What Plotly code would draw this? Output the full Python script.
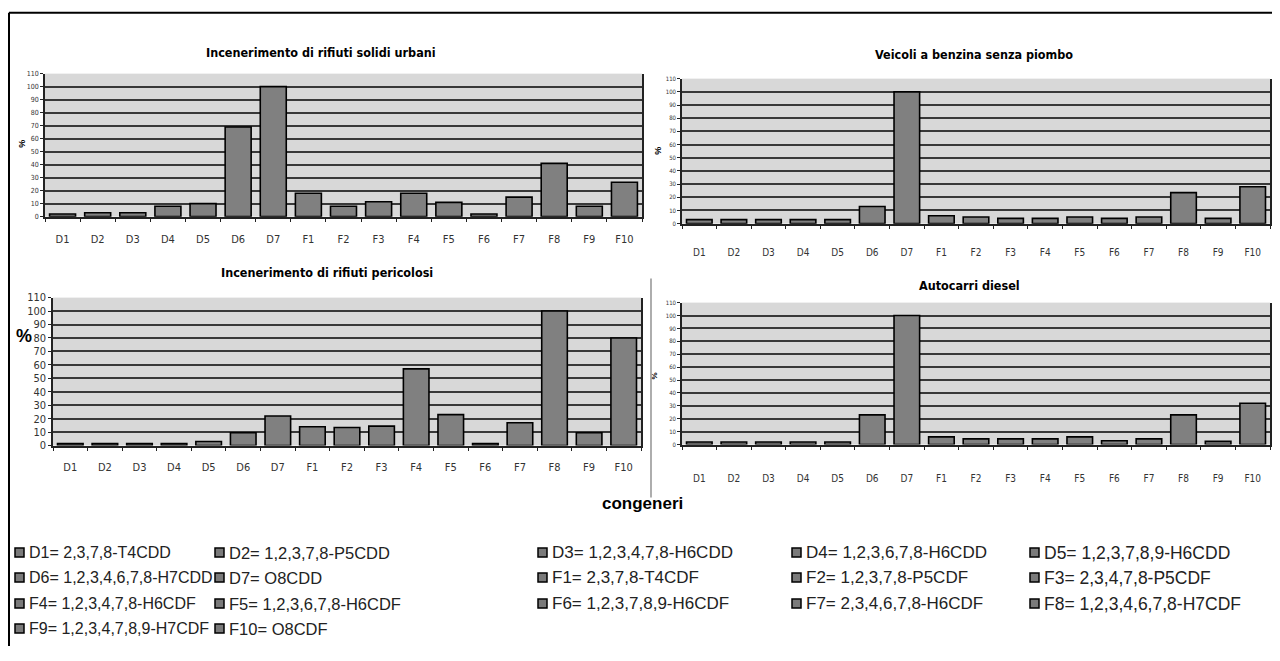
import plotly.graph_objects as go

# page body has an 8px margin, so the figure is sized to fit inside the window
OFF = 8
FW, FH = 1264, 645
# small empirical vertical calibration of the photographed page
Y_A, Y_B = 5.5, 0.98

categories = ["D1", "D2", "D3", "D4", "D5", "D6", "D7", "F1", "F2", "F3",
              "F4", "F5", "F6", "F7", "F8", "F9", "F10"]

rsu_values = [2, 3, 3, 8, 10, 69, 100, 18, 8, 11.5, 18, 11, 2, 15, 41, 8, 26.5]
benzina_values = [3, 3, 3, 3, 3, 13, 100, 6, 5, 4, 4, 5, 4, 5, 23.5, 4, 28]
pericolosi_values = [1.5, 1.5, 1.5, 1.5, 3, 9.5, 22, 14, 13.5, 14.5, 57, 23, 1.5, 17, 100, 9.5, 80]
diesel_values = [2, 2, 2, 2, 2, 23, 100, 6, 4.4, 4.4, 4.4, 6, 3, 4.4, 23, 2.5, 32]

panel_titles = ["Incenerimento di rifiuti solidi urbani",
                "Veicoli a benzina senza piombo",
                "Incenerimento di rifiuti pericolosi",
                "Autocarri diesel"]

y_ticks = [0, 10, 20, 30, 40, 50, 60, 70, 80, 90, 100, 110]

legend_labels = ["D1= 2,3,7,8-T4CDD", "D2= 1,2,3,7,8-P5CDD", "D3= 1,2,3,4,7,8-H6CDD",
                 "D4= 1,2,3,6,7,8-H6CDD", "D5= 1,2,3,7,8,9-H6CDD",
                 "D6= 1,2,3,4,6,7,8-H7CDD", "D7= O8CDD", "F1= 2,3,7,8-T4CDF",
                 "F2= 1,2,3,7,8-P5CDF", "F3= 2,3,4,7,8-P5CDF",
                 "F4= 1,2,3,4,7,8-H6CDF", "F5= 1,2,3,6,7,8-H6CDF", "F6= 1,2,3,7,8,9-H6CDF",
                 "F7= 2,3,4,6,7,8-H6CDF", "F8= 1,2,3,4,6,7,8-H7CDF",
                 "F9= 1,2,3,4,7,8,9-H7CDF", "F10= O8CDF"]

x_axis_title = "congeneri"


def px_x(x):
    return (x - OFF) / FW


def px_y(y):
    yy = (y - Y_A) / Y_B
    return 1 - (yy - OFF) / FH


NARROW = "Liberation Sans Narrow, DejaVu Sans Condensed, Arial Narrow, sans-serif"
ARIAL = "Liberation Sans, Arial, sans-serif"

# panel geometry in window pixels: (x0, x1, ytop, ybottom)
panels = [
    dict(box=(45, 642, 73, 216), vals=rsu_values, ytf=7, xtf=11, stand=11,
         title_xy=(321, 52), pct=(22, 143, 9, -90)),
    dict(box=(682, 1270, 78, 223), vals=benzina_values, ytf=6, xtf=10, stand=19,
         title_xy=(974, 54), pct=(658, 150, 9, -90)),
    dict(box=(53, 641, 297, 445), vals=pericolosi_values, ytf=11, xtf=11, stand=10,
         title_xy=(327, 272), pct=(24, 335, 18, 0)),
    dict(box=(682, 1270, 302, 444), vals=diesel_values, ytf=6, xtf=10, stand=24,
         title_xy=(969, 285), pct=(655, 375, 8, -90)),
]

fig = go.Figure()
layout = dict(
    width=FW, height=FH,
    margin=dict(l=0, r=0, t=0, b=0),
    paper_bgcolor="white",
    plot_bgcolor="#d8d8d8",
    showlegend=False,
    annotations=[], shapes=[],
)

for i, p in enumerate(panels):
    n = i + 1
    xa = "x" if n == 1 else f"x{n}"
    ya = "y" if n == 1 else f"y{n}"
    x0, x1, yt, yb = p["box"]
    fig.add_trace(go.Bar(
        x=categories, y=p["vals"], xaxis=xa, yaxis=ya,
        marker=dict(color="#808080", line=dict(color="black", width=1.6)),
        width=0.74,
    ))
    layout[f"xaxis{'' if n == 1 else n}"] = dict(
        domain=[px_x(x0), px_x(x1)], anchor=ya,
        type="category", showgrid=False, showline=True, linecolor="#222", linewidth=1.5,
        mirror=False, ticks="outside", tickson="boundaries", ticklen=4, tickcolor="#222",
        tickfont=dict(family=NARROW, size=p["xtf"], color="#333"),
        ticklabelstandoff=p["stand"], fixedrange=True,
    )
    layout[f"yaxis{'' if n == 1 else n}"] = dict(
        domain=[px_y(yb), px_y(yt)], anchor=xa,
        range=[0, 110], tickvals=y_ticks,
        showgrid=True, gridcolor="#383838", gridwidth=1.8,
        showline=True, linecolor="#222", linewidth=1.5, mirror=True,
        ticks="outside", ticklen=3, tickcolor="#222",
        tickfont=dict(family=NARROW, size=p["ytf"], color="#333"),
        zeroline=False, fixedrange=True,
    )
    tx, ty = p["title_xy"]
    layout["annotations"].append(dict(
        text=f"<b>{panel_titles[i]}</b>", x=px_x(tx), y=px_y(ty), xref="paper", yref="paper",
        showarrow=False, xanchor="center", yanchor="middle",
        font=dict(family=NARROW, size=12.5, color="black"),
    ))
    pxp, pyp, pfs, pang = p["pct"]
    layout["annotations"].append(dict(
        text="<b>%</b>", x=px_x(pxp), y=px_y(pyp), xref="paper", yref="paper",
        showarrow=False, xanchor="center", yanchor="middle", textangle=pang,
        font=dict(family=ARIAL, size=pfs, color="black"),
    ))

# common x-axis title
layout["annotations"].append(dict(
    text=f"<b>{x_axis_title}</b>", x=px_x(642), y=px_y(503), xref="paper", yref="paper",
    showarrow=False, xanchor="center", yanchor="middle",
    font=dict(family=ARIAL, size=17, color="black"),
))

# separator line and frame
layout["shapes"].append(dict(type="line", xref="paper", yref="paper",
                             x0=px_x(651), x1=px_x(651), y0=px_y(278), y1=px_y(497),
                             line=dict(color="#777", width=1.2)))
layout["shapes"].append(dict(type="line", xref="paper", yref="paper",
                             x0=px_x(9), x1=1, y0=px_y(12), y1=px_y(12),
                             line=dict(color="black", width=2)))
layout["shapes"].append(dict(type="line", xref="paper", yref="paper",
                             x0=px_x(9), x1=px_x(9), y0=px_y(12), y1=0,
                             line=dict(color="black", width=2)))

# legend grid (the source image is slightly stretched towards the right)
col_x = [15, 215, 538, 792, 1030]
col_font = [16, 16.5, 17, 17, 17.5]
row_y = [552, 577, 603, 628]
for k, lab in enumerate(legend_labels):
    r, c = divmod(k, 5)
    mx, my = col_x[c], row_y[r]
    layout["shapes"].append(dict(type="rect", xref="paper", yref="paper",
                                 x0=px_x(mx), x1=px_x(mx + 9),
                                 y0=px_y(my + 4.5), y1=px_y(my - 4.5),
                                 fillcolor="#7a7a7a", line=dict(color="black", width=1.5)))
    layout["annotations"].append(dict(
        text=lab, x=px_x(mx + 12), y=px_y(my), xref="paper", yref="paper",
        showarrow=False, xanchor="left", yanchor="middle",
        font=dict(family=ARIAL, size=col_font[c], color="#222"),
    ))

fig.update_layout(**layout)
fig.write_html("out.html")
